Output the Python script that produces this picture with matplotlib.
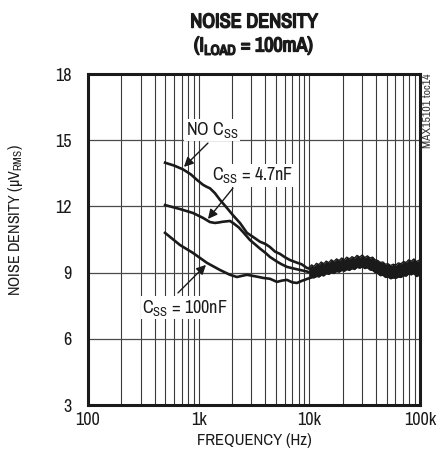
import matplotlib
matplotlib.use("Agg")
import matplotlib.pyplot as plt
from matplotlib import font_manager
import matplotlib.patheffects as pe
import numpy as np

# pick a condensed sans if one is installed
fam = 'Liberation Sans'
stretch = 'normal'
has_bold = True
for f in font_manager.fontManager.ttflist:
    if 'Narrow' in f.name:
        fam = f.name
        break
else:
    for f in font_manager.fontManager.ttflist:
        if 'DejaVuSansCondensed' in f.fname:
            fam = 'DejaVu Sans'
            stretch = 'condensed'
            break
if fam != 'Liberation Sans':
    has_bold = any(f.name == fam and f.weight in ('bold', 700) for f in font_manager.fontManager.ttflist)

plt.rcParams['font.family'] = [fam, 'DejaVu Sans']
plt.rcParams['font.stretch'] = stretch
plt.rcParams['mathtext.fontset'] = 'custom'
plt.rcParams['mathtext.rm'] = fam
plt.rcParams['mathtext.bf'] = fam + ':bold'

# curves (Hz, uVrms)
f_nocss = [497, 600, 721, 850, 966, 1094, 1189, 1265, 1403, 1556, 1801, 2042, 2361,
           2732, 3095, 3578, 4000, 4406, 4900, 5424, 6000, 6677, 7727, 8500, 9509, 10500, 12470]
v_nocss = [13.98, 13.85, 13.68, 13.45, 13.2, 12.98, 12.88, 12.82, 12.6, 12.3, 11.93, 11.6, 11.25,
           10.8, 10.62, 10.4, 10.3, 10.16, 9.95, 9.85, 9.7, 9.57, 9.45, 9.38, 9.21, 9.15, 9.05]

f_47n = [497, 678, 889, 1094, 1265, 1403, 1556, 1622, 1918, 2042, 2300, 2514, 2905, 3578,
         4000, 4406, 5093, 5600, 6277, 7000, 8222, 9509, 10117, 11711]
v_47n = [12.06, 11.88, 11.7, 11.48, 11.29, 11.25, 11.28, 11.3, 11.34, 11.25, 11.05, 10.84, 10.48, 10.09,
         9.9, 9.71, 9.5, 9.38, 9.26, 9.2, 9.12, 9.05, 9.0, 8.98]

f_100n = [497, 678, 889, 1189, 1556, 1918, 2219, 2500, 2732, 3095, 3500, 3811, 4406, 5093,
          5700, 6277, 7000, 7727, 8500, 10117, 11711, 13280]
v_100n = [10.8, 10.25, 9.89, 9.44, 9.12, 8.9, 8.8, 8.86, 8.9, 8.85, 8.8, 8.76, 8.72, 8.58,
          8.64, 8.67, 8.56, 8.53, 8.62, 8.76, 8.85, 8.98]

# noisy band where all three curves merge
f_band = [10000, 10500, 11000, 11600, 12200, 12800, 13500, 14200, 15000, 15800, 16700, 17600,
          18600, 19600, 20700, 21800, 23000, 24300, 25600, 27000, 28500, 30100, 31700, 33500,
          35300, 37300, 39300, 41500, 43800, 46200, 48700, 51400, 54300, 57300, 60400, 63800,
          67300, 71000, 74900, 79000, 83400, 88000, 92800, 97900, 100000]
v_band_hi = [9.25, 9.35, 9.28, 9.42, 9.36, 9.48, 9.40, 9.52, 9.45, 9.58, 9.50, 9.62,
             9.55, 9.66, 9.58, 9.70, 9.62, 9.72, 9.66, 9.78, 9.70, 9.80, 9.68, 9.76,
             9.66, 9.70, 9.58, 9.55, 9.46, 9.48, 9.38, 9.40, 9.32, 9.38, 9.34, 9.44,
             9.40, 9.50, 9.46, 9.58, 9.52, 9.62, 9.50, 9.56, 9.48]
v_band_lo = [8.72, 8.80, 8.76, 8.84, 8.80, 8.88, 8.85, 8.95, 8.92, 9.00, 8.96, 9.05,
             9.02, 9.10, 9.06, 9.14, 9.10, 9.18, 9.14, 9.24, 9.20, 9.26, 9.18, 9.22,
             9.12, 9.10, 9.00, 8.96, 8.86, 8.88, 8.78, 8.80, 8.72, 8.76, 8.74, 8.80,
             8.78, 8.86, 8.84, 8.94, 8.90, 8.96, 8.82, 8.88, 8.80]

x_ticks = [100, 1000, 10000, 100000]
x_ticklabels = ['100', '1k', '10k', '100k']
y_ticks = [3, 6, 9, 12, 15, 18]

fig = plt.figure(figsize=(4.46, 4.63), dpi=100)
ax = fig.add_axes([88/446, 1-405/463, 332/446, 331/463])

ax.set_xscale('log')
ax.set_xlim(100, 100000)
ax.set_ylim(3, 18)

# grid
for dec in [100, 1000, 10000]:
    for m in range(2, 10):
        ax.axvline(dec*m, color='#3a3a3a', lw=0.8, zorder=1)
    if dec > 100:
        ax.axvline(dec, color='#3a3a3a', lw=0.8, zorder=1)
for yv in [6, 9, 12, 15]:
    ax.axhline(yv, color='#4a4a4a', lw=0.9, zorder=1)

ax.plot(f_nocss, v_nocss, color='#1a1a1a', lw=1.9, zorder=3)
ax.plot(f_47n, v_47n, color='#1a1a1a', lw=1.9, zorder=3)
ax.plot(f_100n, v_100n, color='#1a1a1a', lw=1.9, zorder=3)
ax.fill_between(f_band, v_band_lo, v_band_hi, color='#1a1a1a', lw=0, zorder=3)
ax.plot(f_band, v_band_hi, color='#1a1a1a', lw=1.0, zorder=3)
ax.plot(f_band, v_band_lo, color='#1a1a1a', lw=1.0, zorder=3)

for s in ax.spines.values():
    s.set_linewidth(2.2)
    s.set_color('#1a1a1a')
    s.set_zorder(5)

ax.set_xticks(x_ticks)
ax.set_xticklabels(x_ticklabels)
ax.xaxis.set_minor_locator(matplotlib.ticker.NullLocator())
ax.set_yticks(y_ticks)
ax.tick_params(axis='both', length=0, labelsize=13, colors='#1a1a1a')
ax.tick_params(axis='y', pad=12)
ax.tick_params(axis='x', pad=5)

ax.set_xlabel('FREQUENCY (Hz)', fontsize=12, color='#1a1a1a', labelpad=4)
ax.set_ylabel(r'NOISE DENSITY (µV$_{\mathrm{RMS}}$)', fontsize=11.5, color='#1a1a1a')
ax.yaxis.set_label_coords(-0.19, 0.56)

bold_fx = [] if has_bold else [pe.withStroke(linewidth=1.1, foreground='#1a1a1a')]
fig.text(254/446, 1-22/463, 'NOISE DENSITY', ha='center', va='center',
         fontsize=14.5, fontweight='bold', color='#1a1a1a', path_effects=bold_fx)
fig.text(254/446, 1-46/463, r'(I$_{\mathbf{LOAD}}$ = 100mA)', ha='center', va='center',
         fontsize=14.5, fontweight='bold', color='#1a1a1a', path_effects=bold_fx)
fig.text(428/446, 1-73/463, 'MAX15101 toc14', rotation=90, ha='center', va='top',
         fontsize=8.5, color='#333333')

box = dict(facecolor='white', edgecolor='none', pad=1.0)
arrow = dict(arrowstyle='-|>', color='#1a1a1a', lw=1.0, mutation_scale=14, shrinkA=0, shrinkB=0)

ax.text(1318, 15.46, r'NO C$_{\mathrm{SS}}$', ha='center', va='center', fontsize=13,
        color='#1a1a1a', bbox=box, zorder=6)
ax.annotate('', xy=(736, 13.79), xytext=(1213, 14.87), arrowprops=arrow, zorder=6)

ax.text(3060, 13.42, r'C$_{\mathrm{SS}}$ = 4.7nF', ha='center', va='center', fontsize=13,
        color='#1a1a1a', bbox=box, zorder=6)
ax.annotate('', xy=(1213, 11.43), xytext=(2042, 12.83), arrowprops=arrow, zorder=6)

ax.text(752, 7.40, r'C$_{\mathrm{SS}}$ = 100nF', ha='center', va='center', fontsize=13,
        color='#1a1a1a', bbox=box, zorder=6)
ax.annotate('', xy=(1164, 9.35), xytext=(650, 8.08), arrowprops=arrow, zorder=6)

fig.savefig('out.png', dpi=100)
